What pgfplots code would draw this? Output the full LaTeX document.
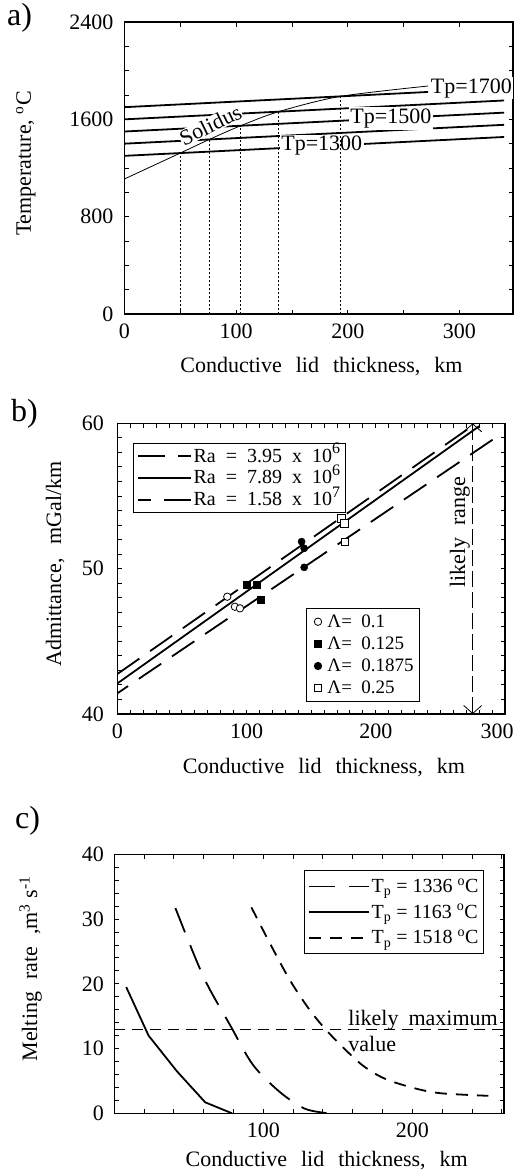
\documentclass[border=0pt]{standalone}
\usepackage{fontspec}
\setmainfont{Liberation Serif}
\usepackage{pgfplots}
\pgfplotsset{compat=1.18}
\usetikzlibrary{arrows.meta}
\newcommand{\tk}{\fontsize{22}{24}\selectfont}
\newcommand{\lgf}{\fontsize{20}{22}\selectfont}
\newcommand{\expo}[1]{\smash{\raisebox{8.4pt}{\fontsize{16}{16}\selectfont #1}}}
\pgfplotsset{
  base/.style={
    scale only axis,
    axis line style={line width=1.2pt},
    every tick/.style={black, line width=0.9pt},
    major tick length=4.5pt, minor tick length=4.5pt,
    tick align=inside,
    tick label style={font=\tk},
    xticklabel style={yshift=-6.5pt},
    label style={font=\tk},
    /pgf/number format/assume math mode=true,
    /pgf/number format/1000 sep={},
    legend cell align=left,
  },
}
\begin{document}
\begin{tikzpicture}[x=1pt,y=1pt]
\useasboundingbox (0,0) rectangle (515,-1175);
\node[anchor=base west, inner sep=0, font=\fontsize{32}{34}\selectfont] at (7,-25) {a)};
\node[anchor=base west, inner sep=0, font=\fontsize{32}{34}\selectfont] at (11,-421) {b)};
\node[anchor=base west, inner sep=0, font=\fontsize{32}{34}\selectfont] at (15,-828) {c)};

% ---------------- Panel a
\begin{axis}[base,
  at={(124.5pt,-314pt)}, anchor=south west,
  width=388.5pt, height=292pt,
  yticklabel style={xshift=-7.5pt},
  xmin=0, xmax=348, ymin=0, ymax=2400,
  xtick={0,100,200,300}, minor xtick={50,150,250},
  ytick={0,800,1600,2400}, minor ytick={200,400,600,1000,1200,1400,1800,2000,2200},
  xlabel={Conductive\hspace{14pt}lid\hspace{14pt}thickness,\hspace{14pt}km},
  ylabel={Temperature, \textsuperscript{o}C},
  xlabel style={at={(axis description cs:0.507,-0.201)}, anchor=base},
  ylabel style={at={(axis description cs:-0.2407,0.515)}, anchor=base},
]
\addplot[line width=1.8pt] coordinates {(0,1700)(272,1825)};
\addplot[line width=1.8pt] coordinates {(0,1600)(340,1755)};
\addplot[line width=1.8pt] coordinates {(0,1500)(340,1655)};
\addplot[line width=1.8pt] coordinates {(0,1400)(340,1555)};
\addplot[line width=1.8pt] coordinates {(0,1300)(340,1455)};
\node[fill=white, inner sep=1.5pt, font=\tk, anchor=west] at (axis cs:273,1855) {Tp=1700};
\node[fill=white, inner sep=1.5pt, font=\tk] at (axis cs:238.6,1608) {Tp=1500};
\node[fill=white, inner sep=1.5pt, font=\tk] at (axis cs:176.7,1382) {Tp=1300};
\node[fill=white, inner sep=0.5pt, font=\tk, rotate=26] at (axis cs:77,1553) {Solidus};
\addplot[line width=0.8pt, smooth] coordinates {(0,1110)(50,1323)(76,1435)(104,1547)(138,1663)(193,1788)(272,1874)};
\addplot[line width=0.7pt, dash pattern=on 2pt off 2pt] coordinates {(50,0)(50,1323)};
\addplot[line width=0.7pt, dash pattern=on 2pt off 2pt] coordinates {(76,0)(76,1435)};
\addplot[line width=0.7pt, dash pattern=on 2pt off 2pt] coordinates {(104,0)(104,1547)};
\addplot[line width=0.7pt, dash pattern=on 2pt off 2pt] coordinates {(138,0)(138,1663)};
\addplot[line width=0.7pt, dash pattern=on 2pt off 2pt] coordinates {(193,0)(193,1788)};
\end{axis}

% ---------------- Panel b (lines)
\begin{axis}[base,
  at={(117.3pt,-714pt)}, anchor=south west,
  width=387.7pt, height=290.7pt,
  yticklabel style={xshift=-10pt},
  xmin=0, xmax=300, ymin=40, ymax=60,
  xtick={0,100,200,300}, xticklabels={0,100,200,\hspace*{-16pt}300}, minor x tick num=9,
  ytick={40,50,60}, minor y tick num=9,
  xlabel={Conductive\hspace{14pt}lid\hspace{14pt}thickness,\hspace{14pt}km},
  ylabel={Admittance,\hspace{14pt}mGal/km},
  xlabel style={at={(axis description cs:0.533,-0.204)}, anchor=base},
  ylabel style={at={(axis description cs:-0.145,0.516)}, anchor=base},
  legend style={at={(0.0413,0.931)}, anchor=north west, font=\lgf, draw=black, line width=1pt, row sep=3pt, inner ysep=3pt},
  legend image code/.code={\draw[#1] (0pt,0pt) -- (53pt,0pt);},
]
\addplot[line width=1.8pt, dash pattern=on 27pt off 13pt] coordinates {(0,42.75)(276,59.9)};
\addplot[line width=1.8pt] coordinates {(0,42.1)(280,59.8)};
\addplot[line width=1.8pt, dash pattern=on 27pt off 13pt, dash phase=14pt] coordinates {(0,41.42)(293,59.03)};
\legend{Ra\ \ =\ \ 3.95\ \ x\ \ 10\expo{6}, Ra\ \ =\ \ 7.89\ \ x\ \ 10\expo{6}, Ra\ \ =\ \ 1.58\ \ x\ \ 10\expo{7}}
\addplot[line width=0.8pt, dash pattern=on 16pt off 5pt, {Straight Barb[length=8pt,width=18pt]}-{Straight Barb[length=8pt,width=18pt]}, forget plot] coordinates {(275,40)(275,60)};
\node[rotate=90, font=\tk] at (axis cs:265,52.5) {likely\hspace{12pt}range};
\end{axis}

% ---------------- Panel b (markers)
\begin{axis}[scale only axis, hide axis,
  at={(117.3pt,-714pt)}, anchor=south west,
  width=387.7pt, height=290.7pt,
  xmin=0, xmax=300, ymin=40, ymax=60,
  legend cell align=left,
  legend style={at={(0.4867,0.0423)}, anchor=south west, font=\fontsize{19}{21}\selectfont, draw=black, line width=1pt, row sep=4pt, inner ysep=4pt, inner xsep=4pt},
  legend image code/.code={\path (0pt,0pt) (14pt,0pt); \draw[#1] plot coordinates {(7pt,0pt)};},
]
\addplot[only marks, mark=*, mark size=3.7pt, mark options={fill=white, draw=black, line width=0.8pt}] coordinates {(85.1,48.07)(91.0,47.38)(94.9,47.27)};
\addplot[only marks, mark=square*, mark size=3.5pt, mark options={fill=black}] coordinates {(100.1,48.92)(107.8,48.87)(111.1,47.89)};
\addplot[only marks, mark=*, mark size=3.6pt, mark options={fill=black}] coordinates {(142.6,51.86)(144.6,51.40)(144.6,50.09)};
\addplot[only marks, mark=square*, mark size=3.7pt, mark options={fill=white, draw=black, line width=0.8pt}] coordinates {(173.5,53.46)(175.6,53.12)(176.1,51.86)};
\legend{Λ=\ \ 0.1, Λ=\ \ 0.125, Λ=\ \ 0.1875, Λ=\ \ 0.25}
\end{axis}

% ---------------- Panel c
\begin{axis}[base,
  at={(114.3pt,-1113.3pt)}, anchor=south west,
  width=389.7pt, height=259pt,
  yticklabel style={xshift=-7pt},
  xmin=0, xmax=261.5, ymin=0, ymax=40,
  xtick={100,200}, minor xtick={0,20,40,60,80,120,140,160,180,220,240,260},
  ytick={0,10,20,30,40}, minor y tick num=4,
  xlabel={Conductive\hspace{14pt}lid\hspace{14pt}thickness,\hspace{14pt}km},
  ylabel={Melting\hspace{12pt}rate\hspace{12pt},m\textsuperscript{3} s\textsuperscript{-1}},
  xlabel style={at={(axis description cs:0.545,-0.206)}, anchor=base},
  ylabel style={at={(axis description cs:-0.198,0.557)}, anchor=base},
  legend style={at={(0.9487,0.939)}, anchor=north east, font=\lgf, draw=black, line width=1pt, row sep=6pt, inner ysep=6pt},
  legend image code/.code={\draw[#1] (0pt,0pt) -- (60pt,0pt);},
]
\addplot[line width=1.8pt, dash pattern=on 26pt off 14pt, smooth] coordinates {(41,31.7)(60,21)(78,13.5)(93,7.5)(111,3.3)(128,0.7)(144,0)};
\addplot[line width=1.8pt] coordinates {(8,19.5)(23,12)(42,6.5)(61,1.7)(79,0)};
\addplot[line width=1.8pt, dash pattern=on 12pt off 9pt, smooth] coordinates {(92,31.8)(105,26)(118,20.5)(131,16)(144,12.4)(165,7.7)(181,5.4)(201,3.9)(219,3.1)(251,2.7)};
\legend{T\textsubscript{p} =\ 1336 \textsuperscript{o}C, T\textsubscript{p} =\ 1163 \textsuperscript{o}C, T\textsubscript{p} =\ 1518 \textsuperscript{o}C}
\addplot[line width=0.9pt, dash pattern=on 11pt off 7pt, forget plot] coordinates {(0,13)(261.5,13)};
\node[anchor=base west, inner sep=0, font=\tk] at (axis cs:157,13.6) {likely\hspace{10pt}maximum};
\node[anchor=north west, inner sep=0, font=\tk] at (axis cs:157,11.9) {value};
\end{axis}
\end{tikzpicture}
\end{document}
